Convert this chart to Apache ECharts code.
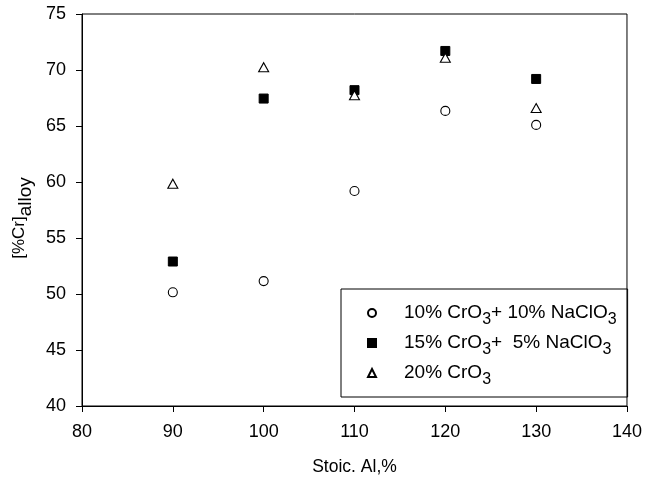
<!DOCTYPE html>
<html>
<head>
<meta charset="utf-8">
<script src="https://cdn.jsdelivr.net/npm/echarts@6/dist/echarts.min.js"></script>
<style>
  html, body { margin: 0; padding: 0; background: #fff; }
  #chart { width: 645px; height: 481px; }
</style>
</head>
<body>
<div id="chart"></div>
<script>
// 数据
var stoicAl = [90, 100, 110, 120, 130];
var crMixA = [50.15, 51.15, 59.2, 66.35, 65.1];   // 10% CrO3 + 10% NaClO3
var crMixB = [52.9, 67.45, 68.2, 71.7, 69.2];     // 15% CrO3 + 5% NaClO3
var crOnly = [59.85, 70.25, 67.75, 71.1, 66.6];   // 20% CrO3
var seriesNames = ['10% CrO3+ 10% NaClO3', '15% CrO3+  5% NaClO3', '20% CrO3'];
var legendLabels = ['10% CrO{s|3}+ 10% NaClO{s|3}', '15% CrO{s|3}+  5% NaClO{s|3}', '20% CrO{s|3}'];

var font = 'Liberation Sans, Arial, sans-serif';

function pairs(ys) {
    return stoicAl.map(function (x, i) { return [x, ys[i]]; });
}

var myChart = echarts.init(document.getElementById('chart'));
var option = {
    animation: false,
    backgroundColor: '#fff',
    grid: {
        left: 82, right: 16, top: 14, bottom: 73,
        show: true,
        borderColor: '#000',
        borderWidth: 1
    },
    legend: {
        orient: 'vertical',
        left: 341,
        top: 289,
        padding: [13, 11, 9, 26],
        itemGap: 4,
        itemWidth: 8,
        itemHeight: 8,
        borderColor: '#000',
        borderWidth: 1,
        data: seriesNames,
        formatter: function (name) {
            return '{g| }' + legendLabels[seriesNames.indexOf(name)];
        },
        textStyle: {
            color: '#000',
            fontFamily: font,
            fontSize: 19,
            lineHeight: 22,
            rich: {
                g: { width: 23 },
                s: { fontSize: 16, fontFamily: font, color: '#000', padding: [14, 0, 0, 0] }
            }
        }
    },
    xAxis: {
        type: 'value',
        min: 80, max: 140, interval: 10,
        name: 'Stoic. Al,%',
        nameLocation: 'middle',
        nameGap: 52,
        nameTextStyle: { color: '#000', fontFamily: font, fontSize: 17.5 },
        axisLine: { show: true, lineStyle: { color: '#000', width: 1 } },
        axisTick: { show: true, inside: false, length: 6, lineStyle: { color: '#000' } },
        axisLabel: { color: '#000', fontFamily: font, fontSize: 18, margin: 17 },
        splitLine: { show: false }
    },
    yAxis: {
        type: 'value',
        min: 40, max: 75, interval: 5,
        name: '[%Cr]{s|alloy}',
        nameLocation: 'middle',
        nameGap: 49,
        nameTextStyle: {
            color: '#000', fontFamily: font, fontSize: 17, lineHeight: 20,
            padding: [0, 16, 0, 0],
            rich: {
                s: { fontSize: 19, fontFamily: font, color: '#000', padding: [12, 0, 0, 0] }
            }
        },
        axisLine: { show: true, lineStyle: { color: '#000', width: 1 } },
        axisTick: { show: true, inside: false, length: 6, lineStyle: { color: '#000' } },
        axisLabel: { color: '#000', fontFamily: font, fontSize: 18, margin: 16 },
        splitLine: { show: false }
    },
    series: [
        {
            name: seriesNames[0],
            type: 'scatter',
            symbol: 'circle',
            symbolSize: 9,
            itemStyle: { color: '#fff', borderColor: '#000', borderWidth: 1.1, opacity: 1 },
            data: pairs(crMixA)
        },
        {
            name: seriesNames[1],
            type: 'scatter',
            symbol: 'rect',
            symbolSize: 9,
            itemStyle: { color: '#000', borderColor: '#000', borderWidth: 1, opacity: 1 },
            data: pairs(crMixB)
        },
        {
            name: seriesNames[2],
            type: 'scatter',
            symbol: 'triangle',
            symbolSize: [10, 9],
            itemStyle: { color: '#fff', borderColor: '#000', borderWidth: 1.1, opacity: 1 },
            data: pairs(crOnly)
        }
    ]
};
myChart.setOption(option);
</script>
</body>
</html>
